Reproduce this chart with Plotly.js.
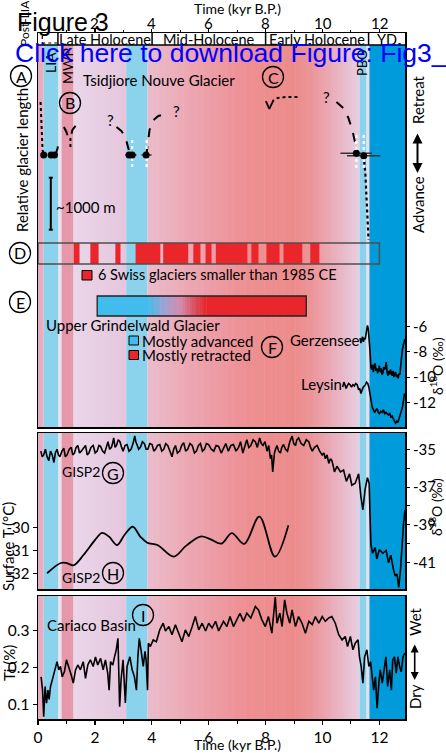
<!DOCTYPE html>
<html><head><meta charset="utf-8">
<script src="https://cdn.plot.ly/plotly-3.0.1.min.js"></script>
<style>html,body{margin:0;padding:0;background:#fff}#chart{width:446px;height:753px}</style>
</head><body><div id="chart"></div>
<script>
// ---------------- DATA ----------------
const xTicks = [0,2,4,6,8,10,12];
const xMinorTicks = [1,3,5,7,9,11];
const topTicks = [2,4,6,8,10,12];

// climate periods (kyr BP)
const periodNames = ['Late Holocene','Mid-Holocene','Early Holocene','YD'];
const periodStart = [0.70, 4.01, 8.0, 11.62];
const periodEnd   = [4.01, 8.0, 11.62, 12.9];

// background bands
const bandStart = [0, 0.2, 0.72, 0.83, 1.25, 3.1, 3.85, 11.3, 11.55, 11.65];
const bandEnd   = [0.2, 0.72, 0.83, 1.25, 3.1, 3.85, 11.3, 11.55, 11.65, 12.9];

// A: Tsidjiore Nouve glacier sketch (relative length, m; 0 = dated position)
const liaDropX = [0.09,0.12,0.16,0.20], liaDropY = [1019,481,96,0];
const liaRiseX = [0.61,0.69,0.72], liaRiseY = [0,135,288];
const mwpLeftX = [0.91,1.0,1.07,1.12], mwpLeftY = [538,442,327,230];
const mwpRightX = [1.32,1.21,1.14], mwpRightY = [558,481,327];
const mwpStemX = [1.14,1.14], mwpStemY = [327,135];
const mh1X = [2.76,2.93,3.07,3.14,3.21], mh1Y = [538,462,346,192,58];
const mh2X = [3.81,3.85,3.92,4.06,4.23,4.48], mh2Y = [0,192,481,673,750,788];
const eh1X = [9.12,8.70,8.42,8.24], eh1Y = [1115,1115,1096,1038];
const eh1HeadX = [8.01,8.13,8.26], eh1HeadY = [1038,885,1038];
const eh2X = [10.49,10.73,10.91,11.05,11.14,11.19], eh2Y = [1019,904,712,481,250,33];
const ydX = [11.45,11.51,11.55,11.58,11.62], ydY = [-13,-385,-865,-1346,-1635];
const dotX = [0.20,0.46,0.58,3.20,3.31,3.80,11.19,11.45];
const dotY = [0,0,0,0,0,0,33,-13];
const dotErrMinus = [0,0,0,0.13,0.13,0.16,0.56,0.59];
const dotErrPlus  = [0,0,0,0.15,0.15,0.19,0.55,0.58];
const whiteLineX = [3.31,3.82,11.19,11.45];
const questionX = [2.55,4.86,10.14], questionY = [673,846,1115];
const scaleBarM = 1000;

// D: 6 Swiss glaciers smaller than 1985 CE
const swissStart = [1.25,1.84,2.72,3.43,4.40,5.46,5.89,6.25,7.50,8.03,8.63,9.57];
const swissEnd   = [1.46,2.13,2.90,4.30,5.28,5.71,6.10,7.36,7.75,8.49,9.29,9.89];
const swissRecordEnd = 12.0;

// E: Upper Grindelwald glacier
const grindAdvStart = 2.08, grindAdvEnd = 3.87;
const grindRetStart = 5.92, grindRetEnd = 9.43;

// F: Gerzensee and Leysin d18O (permil)
const gerzAge = [11.32,11.35,11.38,11.41,11.44,11.47,11.50,11.54,11.58,11.61,11.64,11.67,11.70,11.73,11.76,11.79,11.82,11.85,11.88,11.91,11.94,11.97,12.00,12.03,12.06,12.09,12.12,12.15,12.18,12.21,12.24,12.27,12.30,12.33,12.36,12.39,12.42,12.45,12.48,12.51,12.54,12.57,12.60,12.63,12.66,12.69,12.72,12.75,12.78,12.81,12.84,12.87,12.90];
const gerzD18O = [-6.9,-7.3,-7.0,-6.8,-7.2,-6.9,-7.0,-6.4,-5.9,-6.2,-6.9,-7.9,-9.2,-9.4,-9.0,-9.6,-9.1,-8.9,-9.5,-9.3,-9.7,-9.2,-9.1,-9.6,-9.3,-9.8,-9.7,-9.2,-9.4,-9.3,-8.8,-9.6,-9.9,-9.5,-9.8,-9.4,-9.6,-9.9,-9.5,-10.0,-9.7,-9.6,-10.0,-9.8,-10.1,-9.7,-9.8,-9.3,-8.4,-7.8,-7.3,-7.2,-7.0];
const leysinAge = [10.71,10.75,10.79,10.83,10.87,10.92,10.97,11.02,11.07,11.12,11.17,11.22,11.27,11.31,11.35,11.39,11.43,11.47,11.51,11.55,11.59,11.63,11.67,11.71,11.75,11.79,11.84,11.88,11.92,11.96,12.00,12.05,12.10,12.14,12.19,12.23,12.28,12.32,12.37,12.41,12.45,12.49,12.53,12.57,12.61,12.65,12.69,12.73,12.77,12.81,12.85,12.88];
const leysinD18O = [-10.8,-10.4,-10.6,-10.9,-10.7,-10.5,-10.6,-10.8,-10.6,-10.7,-10.5,-10.6,-11.0,-10.9,-11.3,-11.0,-10.8,-10.7,-10.6,-10.4,-10.5,-10.8,-11.4,-12.1,-12.4,-12.6,-12.8,-12.6,-12.5,-12.8,-12.9,-12.7,-12.8,-12.6,-12.9,-12.8,-12.9,-13.0,-12.9,-13.2,-13.1,-13.4,-13.5,-13.65,-13.5,-13.6,-13.3,-13.1,-12.7,-12.4,-11.8,-11.3];

// G: GISP2 d18O (permil)
const gispAge = [0.10,0.15,0.20,0.26,0.32,0.38,0.44,0.50,0.56,0.61,0.67,0.72,0.77,0.84,0.91,0.96,1.02,1.10,1.17,1.22,1.28,1.34,1.40,1.46,1.52,1.60,1.67,1.73,1.79,1.86,1.94,2.01,2.08,2.14,2.20,2.27,2.34,2.40,2.46,2.52,2.58,2.62,2.66,2.71,2.76,2.82,2.88,2.94,2.99,3.06,3.13,3.20,3.27,3.34,3.40,3.44,3.48,3.54,3.60,3.67,3.74,3.80,3.86,3.93,4.01,4.07,4.13,4.20,4.28,4.35,4.42,4.49,4.56,4.63,4.71,4.77,4.83,4.90,4.98,5.05,5.12,5.19,5.26,5.34,5.42,5.50,5.57,5.64,5.71,5.78,5.85,5.92,6.00,6.09,6.18,6.26,6.35,6.44,6.52,6.60,6.69,6.78,6.87,6.96,7.05,7.12,7.20,7.27,7.34,7.41,7.48,7.56,7.64,7.71,7.79,7.85,7.91,7.98,8.05,8.11,8.17,8.21,8.25,8.28,8.31,8.35,8.40,8.46,8.52,8.57,8.63,8.70,8.77,8.85,8.93,8.99,9.05,9.10,9.16,9.25,9.34,9.43,9.52,9.58,9.64,9.72,9.81,9.90,9.99,10.05,10.10,10.16,10.22,10.28,10.33,10.38,10.42,10.51,10.63,10.74,10.84,10.95,11.03,11.15,11.27,11.35,11.42,11.50,11.58,11.64,11.70,11.76,11.85,11.91,12.00,12.12,12.24,12.32,12.40,12.50,12.56,12.62,12.68,12.74,12.79,12.85,12.90];
const gispD18O = [-35.1,-35.4,-35.3,-35.0,-35.4,-35.6,-35.1,-35.3,-35.7,-35.2,-35.0,-35.3,-35.4,-35.1,-34.95,-35.4,-35.3,-35.0,-34.9,-35.3,-35.2,-34.9,-34.8,-35.2,-35.1,-34.9,-34.8,-35.3,-35.2,-34.9,-34.8,-35.2,-35.1,-34.8,-34.85,-35.1,-35.2,-34.9,-34.6,-35.0,-34.9,-34.7,-34.4,-34.9,-34.8,-34.5,-34.6,-34.9,-35.1,-34.8,-34.75,-35.1,-35.0,-34.7,-34.3,-34.6,-34.75,-35.0,-34.9,-34.6,-34.7,-35.0,-35.0,-34.7,-34.75,-35.1,-35.0,-34.8,-34.75,-35.1,-35.0,-34.7,-34.8,-35.1,-35.4,-35.0,-34.8,-35.2,-35.1,-34.8,-34.65,-35.1,-35.0,-34.7,-34.8,-35.2,-35.1,-34.8,-34.7,-35.1,-35.0,-34.7,-34.75,-35.0,-35.1,-34.8,-34.85,-35.2,-34.9,-34.7,-35.1,-34.8,-34.75,-35.1,-34.9,-34.6,-35.2,-34.9,-34.5,-34.9,-34.8,-34.5,-34.6,-34.9,-34.4,-34.7,-34.8,-34.6,-35.1,-34.8,-35.5,-35.3,-36.2,-35.7,-35.2,-35.0,-34.8,-35.1,-35.2,-34.9,-34.75,-35.0,-35.1,-34.6,-34.3,-34.7,-34.8,-34.5,-34.4,-34.7,-34.8,-34.5,-34.6,-34.9,-35.1,-34.9,-34.8,-35.1,-35.3,-35.2,-35.5,-35.3,-35.75,-35.5,-35.6,-35.9,-36.2,-35.9,-36.2,-36.1,-36.7,-36.3,-36.9,-36.8,-36.3,-37.5,-38.2,-37.1,-36.5,-36.8,-40.0,-40.5,-40.2,-40.8,-40.3,-40.5,-40.35,-41.0,-40.6,-41.4,-41.7,-41.6,-42.3,-41.4,-40.2,-38.9,-38.2];

// H: GISP2 surface temperature (deg C)
const gispTAge = [0.32,0.8,1.0,1.25,1.6,2.0,2.25,2.5,2.78,3.05,3.33,3.6,3.84,4.2,4.77,5.2,5.71,6.05,6.45,6.81,7.25,7.78,8.33,8.8];
const gispT = [-32.0,-31.55,-31.55,-31.65,-31.2,-30.55,-30.23,-30.4,-30.76,-30.3,-29.96,-30.4,-30.66,-30.76,-31.27,-30.8,-30.39,-30.5,-30.7,-30.24,-30.71,-29.52,-31.27,-29.9];

// I: Cariaco Basin Ti (%)
const tiAge = [0.11,0.16,0.20,0.25,0.30,0.35,0.39,0.44,0.50,0.56,0.62,0.67,0.73,0.79,0.85,0.93,1.00,1.08,1.17,1.24,1.32,1.40,1.49,1.59,1.67,1.75,1.84,1.94,2.02,2.10,2.20,2.29,2.37,2.45,2.50,2.55,2.63,2.69,2.75,2.81,2.84,2.87,2.92,2.99,3.07,3.13,3.23,3.31,3.39,3.46,3.51,3.56,3.62,3.70,3.76,3.80,3.85,3.88,3.95,4.05,4.16,4.28,4.40,4.48,4.60,4.71,4.83,4.95,5.06,5.18,5.30,5.42,5.53,5.65,5.77,5.89,6.00,6.12,6.24,6.35,6.47,6.52,6.64,6.75,6.87,6.99,7.10,7.22,7.34,7.48,7.64,7.75,7.87,7.99,8.10,8.22,8.28,8.34,8.40,8.50,8.58,8.67,8.75,8.85,8.93,9.05,9.16,9.28,9.40,9.52,9.64,9.75,9.87,9.99,10.10,10.22,10.33,10.45,10.57,10.69,10.80,10.88,10.98,11.07,11.15,11.25,11.30,11.36,11.42,11.48,11.56,11.63,11.69,11.75,11.80,11.86,11.92,11.98,12.03,12.10,12.17,12.23,12.29,12.36,12.42,12.47,12.53,12.59,12.65,12.71,12.77,12.83,12.89];
const tiVal = [0.176,0.14,0.068,0.15,0.105,0.14,0.115,0.15,0.167,0.186,0.20,0.217,0.195,0.204,0.176,0.19,0.222,0.204,0.18,0.159,0.195,0.208,0.195,0.217,0.172,0.208,0.222,0.204,0.23,0.208,0.226,0.195,0.222,0.186,0.14,0.217,0.208,0.23,0.249,0.28,0.186,0.095,0.168,0.222,0.105,0.204,0.23,0.195,0.176,0.14,0.23,0.28,0.249,0.204,0.245,0.222,0.14,0.267,0.258,0.276,0.271,0.303,0.321,0.30,0.312,0.29,0.317,0.294,0.271,0.303,0.285,0.312,0.339,0.303,0.321,0.30,0.321,0.308,0.326,0.30,0.317,0.326,0.312,0.339,0.312,0.33,0.348,0.326,0.348,0.335,0.366,0.357,0.33,0.312,0.339,0.294,0.339,0.392,0.321,0.348,0.312,0.384,0.348,0.321,0.357,0.312,0.339,0.321,0.294,0.326,0.317,0.339,0.321,0.339,0.326,0.335,0.339,0.321,0.29,0.276,0.285,0.258,0.285,0.249,0.267,0.276,0.23,0.204,0.159,0.23,0.249,0.204,0.217,0.168,0.14,0.176,0.091,0.159,0.195,0.159,0.204,0.23,0.15,0.195,0.14,0.222,0.23,0.186,0.23,0.204,0.19,0.23,0.24];

// ---------------- STYLE / LAYOUT ----------------
const W = 446, H = 753;
const PX = x => x / W, PY = y => 1 - y / H;
const XL = 38, XR = 405;
const FONT = 'Lato, "Noto Sans", sans-serif';
const LIGHTBLUE = [139,211,237], DARKBLUE = [0,155,219];

const bandStyle = [
  [[0,[232,172,192]],[1,[232,172,192]]],
  [[0,LIGHTBLUE],[1,LIGHTBLUE]],
  [[0,[238,222,236]],[1,[238,222,236]]],
  [[0,[229,152,170]],[1,[229,152,170]]],
  [[0,[234,214,234]],[1,[229,198,220]]],
  [[0,LIGHTBLUE],[1,LIGHTBLUE]],
  [[0,[234,188,204]],[0.15,[236,172,184]],[0.35,[237,152,160]],[0.5,[237,142,144]],[0.7,[237,140,140]],[0.78,[235,150,154]],[0.88,[234,174,188]],[1,[230,206,226]]],
  [[0,LIGHTBLUE],[1,LIGHTBLUE]],
  [[0,[236,218,236]],[1,[236,218,236]]],
  [[0,DARKBLUE],[1,DARKBLUE]]
];
function interp(stops, t){
  for (let i=0;i<stops.length-1;i++){
    const [t0,c0]=stops[i],[t1,c1]=stops[i+1];
    if (t>=t0 && t<=t1){
      const f=(t-t0)/((t1-t0)||1);
      return 'rgb('+c0.map((v,k)=>Math.round(v+(c1[k]-v)*f)).join(',')+')';
    }
  }
  const c=stops[stops.length-1][1]; return 'rgb('+c.join(',')+')';
}
const shapes = [];
function rect(x0,x1,y0,y1,fill,opts){
  shapes.push(Object.assign({type:'rect',xref:'x',yref:'paper',x0:x0,x1:x1,y0:y0,y1:y1,fillcolor:fill,line:{width:0},layer:'below'},opts||{}));
}
// bands across all three panels
for (let i=0;i<bandStart.length;i++){
  const st = bandStyle[i];
  const n = st.length>2 || st[0][1]!==st[1][1] ? Math.max(4,Math.round((bandEnd[i]-bandStart[i])*12)) : 1;
  const step=(bandEnd[i]-bandStart[i])/n;
  for (let k=0;k<n;k++){
    const a=bandStart[i]+k*step, b=a+step+(k<n-1?0.02:0);
    rect(a,b,PY(719),PY(45),interp(st,(k+0.5)/n));
  }
}
// white gaps between panels
shapes.push({type:'rect',xref:'paper',yref:'paper',x0:PX(XL-3),x1:PX(XR+3),y0:PY(433),y1:PY(427),fillcolor:'#fff',line:{width:0},layer:'below'});
shapes.push({type:'rect',xref:'paper',yref:'paper',x0:PX(XL-3),x1:PX(XR+3),y0:PY(596),y1:PY(589),fillcolor:'#fff',line:{width:0},layer:'below'});
// period label row
shapes.push({type:'line',xref:'paper',yref:'paper',x0:PX(XL),x1:PX(XR),y0:PY(45),y1:PY(45),line:{color:'#000',width:1.5}});
periodStart.forEach(s=>shapes.push({type:'line',xref:'x',yref:'paper',x0:s,x1:s,y0:PY(45),y1:PY(33),line:{color:'#000',width:1.5}}));
shapes.push({type:'line',xref:'x',yref:'paper',x0:0.15,x1:0.15,y0:PY(45),y1:PY(33),line:{color:'#000',width:1.2,dash:'dot'}});
shapes.push({type:'line',xref:'x',yref:'paper',x0:0.15,x1:0.70,y0:PY(43),y1:PY(43),line:{color:'#000',width:1.2,dash:'dot'}});
// D row
for (let i=0;i<swissStart.length;i++) rect(swissStart[i],swissEnd[i],PY(264),PY(243),'rgb(234,38,43)',{layer:'above'});
shapes.push({type:'rect',xref:'x',yref:'paper',x0:0,x1:swissRecordEnd,y0:PY(264),y1:PY(243),line:{color:'rgb(80,80,80)',width:1.5},fillcolor:'rgba(0,0,0,0)'});
shapes.push({type:'rect',xref:'paper',yref:'paper',x0:PX(82),x1:PX(92),y0:PY(280),y1:PY(270.5),fillcolor:'rgb(234,38,43)',line:{color:'#000',width:1}});
// E row
rect(grindAdvStart,grindAdvEnd,PY(316),PY(296),'rgb(64,189,236)',{layer:'above'});
const eStops=[[0,[64,189,236]],[0.25,[150,165,215]],[0.55,[212,140,172]],[0.8,[216,78,92]],[1,[233,38,43]]];
const eN=24, eStep=(grindRetStart-grindAdvEnd)/eN;
for (let k=0;k<eN;k++){const a=grindAdvEnd+k*eStep; rect(a,a+eStep+0.01,PY(316),PY(296),interp(eStops,(k+0.5)/eN),{layer:'above'});}
rect(grindRetStart,grindRetEnd,PY(316),PY(296),'rgb(233,38,43)',{layer:'above'});
shapes.push({type:'rect',xref:'x',yref:'paper',x0:grindAdvStart,x1:grindRetEnd,y0:PY(316),y1:PY(296),line:{color:'#222',width:1.3},fillcolor:'rgba(0,0,0,0)'});
shapes.push({type:'rect',xref:'paper',yref:'paper',x0:PX(129),x1:PX(138.5),y0:PY(345),y1:PY(336),fillcolor:'rgb(64,189,236)',line:{color:'#000',width:1}});
shapes.push({type:'rect',xref:'paper',yref:'paper',x0:PX(129),x1:PX(138.5),y0:PY(359.5),y1:PY(350.5),fillcolor:'rgb(234,38,43)',line:{color:'#000',width:1}});
// circled letters
const circ = [['A',21,76],['B',70,103],['C',273,77],['D',20,253],['E',20,302],['F',272,347],['G',113,473],['H',113,573],['I',143,615]];
const R = 10.5;
circ.forEach(c=>shapes.push({type:'circle',xref:'paper',yref:'paper',x0:PX(c[1]-R),x1:PX(c[1]+R),y0:PY(c[2]+R),y1:PY(c[2]-R),line:{color:'#000',width:1.3},fillcolor:'rgba(0,0,0,0)'}));

// ---------------- TRACES ----------------
const blk = {color:'#000',width:1.6};
const g = (x,y,dash,extra)=>Object.assign({type:'scatter',mode:'lines',x:x,y:y,xaxis:'x3',yaxis:'y4',line:{color:'#000',width:2,dash:dash},hoverinfo:'skip',showlegend:false},extra||{});
const traces = [
  {type:'scatter',mode:'lines',x:tiAge,y:tiVal,xaxis:'x',yaxis:'y',line:blk,showlegend:false},
  {type:'scatter',mode:'lines',x:gispAge,y:gispD18O,xaxis:'x2',yaxis:'y3',line:blk,showlegend:false},
  {type:'scatter',mode:'lines',x:gispTAge,y:gispT,xaxis:'x2',yaxis:'y2',line:{color:'#000',width:1.8,shape:'spline',smoothing:1},showlegend:false},
  {type:'scatter',mode:'lines',x:gerzAge,y:gerzD18O,xaxis:'x3',yaxis:'y5',line:blk,showlegend:false},
  {type:'scatter',mode:'lines',x:leysinAge,y:leysinD18O,xaxis:'x3',yaxis:'y5',line:blk,showlegend:false},
  g(liaDropX,liaDropY,'dot'),
  g(liaRiseX,liaRiseY,'dash'),
  g(mwpLeftX,mwpLeftY,'dash'),
  g(mwpRightX,mwpRightY,'dash'),
  g(mwpStemX,mwpStemY,'dot'),
  g(mh1X,mh1Y,'dash'),
  g(mh2X,mh2Y,'dash'),
  g(eh1X,eh1Y,'dot'),
  g(eh1HeadX,eh1HeadY,'solid',{line:{color:'#000',width:1.8}}),
  g(eh2X,eh2Y,'dash'),
  g(ydX,ydY,'dot',{line:{color:'#000',width:2.2,dash:'dot'}}),
  g([0.38,0.52,null,0.45,0.45,null,0.38,0.52],[-437,-437,null,-437,-437-scaleBarM,null,-437-scaleBarM,-437-scaleBarM],'solid'),
];
whiteLineX.forEach((x,i)=>traces.push(g([x,x], i<2?[288,-250]:[385,-288],'dot',{line:{color:'#fff',width:2.2,dash:'dot'}})));
traces.push({type:'scatter',mode:'markers',x:dotX,y:dotY,xaxis:'x3',yaxis:'y4',marker:{color:'#000',size:7},
  error_x:{type:'data',symmetric:false,array:dotErrPlus,arrayminus:dotErrMinus,width:0,thickness:1.5,color:'rgb(50,50,50)'},showlegend:false});

// ---------------- ANNOTATIONS ----------------
const ann = [];
function T(text,x,y,o){ann.push(Object.assign({text:text,x:PX(x),y:PY(y),xref:'paper',yref:'paper',showarrow:false,xanchor:'center',yanchor:'middle',font:{family:FONT,size:15,color:'#000'}},o||{}));}
const rot = {textangle:-90};
// top axis tick labels
topTicks.forEach(t=>ann.push({text:String(t),x:t,y:PY(23),xref:'x3',yref:'paper',showarrow:false,xanchor:'center',yanchor:'middle',font:{family:FONT,size:15,color:'#000'}}));
T('Time (kyr B.P.)',237,8.5,{font:{family:FONT,size:14}});
T('Time (kyr B.P.)',237,744,{font:{family:FONT,size:14}});
periodNames.forEach((nm,i)=>ann.push({text:nm,x:(periodStart[i]+periodEnd[i])/2,y:PY(39.5),xref:'x',yref:'paper',showarrow:false,xanchor:'center',yanchor:'middle',font:{family:FONT,size:14.5,color:'#000'}}));
T('Post-LIA',25,23,Object.assign({font:{family:FONT,size:12}},rot));
T('LIA',50,63,Object.assign({font:{family:FONT,size:14}},rot));
T('MWP',67,66,Object.assign({font:{family:FONT,size:14}},rot));
T('PBO',362,63,Object.assign({font:{family:FONT,size:13}},rot));
T('Tsidjiore Nouve Glacier',81,79.5,{xanchor:'left'});
T('Relative glacier length',22,160,rot);
T('Retreat',418,100,rot);
T('Advance',418,205,rot);
T('~1000 m',54,207,{xanchor:'left'});
questionX.forEach((x,i)=>ann.push({text:'?',x:x,y:questionY[i],xref:'x3',yref:'y4',showarrow:false,font:{family:FONT,size:15,color:'#000'}}));
T('6 Swiss glaciers smaller than 1985 CE',96,274.5,{xanchor:'left',font:{family:FONT,size:14.5}});
T('Upper Grindelwald Glacier',44,325,{xanchor:'left'});
T('Mostly advanced',140,340.5,{xanchor:'left'});
T('Mostly retracted',140,355,{xanchor:'left'});
T('Gerzensee',288,340,{xanchor:'left'});
T('Leysin',299,384,{xanchor:'left'});
T('δ<sup>18</sup>O (‰)',436,366,Object.assign({font:{family:FONT,size:14}},rot));
T('δ<sup>18</sup>O (‰)',436,507,Object.assign({font:{family:FONT,size:14}},rot));
T('GISP2',60,471,{xanchor:'left',font:{family:FONT,size:14}});
T('GISP2',60,577,{xanchor:'left',font:{family:FONT,size:14}});
T('Surface T (°C)',8,547,rot);
T('Cariaco Basin',45,625,{xanchor:'left'});
T('Ti (%)',9,663,rot);
T('Wet',415,622,rot);
T('Dry',415,697,rot);
circ.forEach(c=>T(c[0],c[1],c[2],{font:{family:FONT,size:16}}));
// double arrows
ann.push({x:PX(417.5),y:PY(173),xref:'paper',yref:'paper',ax:0,ay:-41,text:'',showarrow:true,arrowhead:2,arrowside:'end+start',arrowsize:1,arrowwidth:2,arrowcolor:'#000'});
ann.push({x:PX(414.7),y:PY(680),xref:'paper',yref:'paper',ax:0,ay:-37,text:'',showarrow:true,arrowhead:2,arrowside:'end+start',arrowsize:1,arrowwidth:1.6,arrowcolor:'#000'});
// PDF overlay texts
T('Figure 3',15,22,{xanchor:'left',font:{family:'"Liberation Sans", Arial, sans-serif',size:25,color:'#000'}});
T('Click here to download Figure: Fig3_',13,53,{xanchor:'left',font:{family:'"Liberation Sans", Arial, sans-serif',size:26.5,color:'rgb(0,0,255)'}});

// ---------------- AXES ----------------
const xCommon = {domain:[PX(XL),PX(XR)],range:[0,12.9],showgrid:false,zeroline:false,showline:true,mirror:true,linecolor:'#000',linewidth:1.5};
const layout = {
  width:W,height:H,margin:{l:0,r:0,t:0,b:0},paper_bgcolor:'#fff',plot_bgcolor:'rgba(0,0,0,0)',
  font:{family:FONT,color:'#000',size:15},showlegend:false,
  xaxis:Object.assign({},xCommon,{anchor:'y',tickvals:xTicks,ticks:'outside',ticklen:4,tickwidth:1.3,tickcolor:'#000',
    minor:{tickvals:xMinorTicks,ticks:'outside',ticklen:3,tickwidth:1,tickcolor:'#000'},tickfont:{size:15.5}}),
  xaxis2:Object.assign({},xCommon,{anchor:'y2',showticklabels:false,ticks:''}),
  xaxis3:Object.assign({},xCommon,{anchor:'y4',side:'top',tickvals:topTicks,showticklabels:false,ticks:'outside',ticklen:3,tickwidth:1.3,tickcolor:'#000',
    minor:{tickvals:xMinorTicks,ticks:'outside',ticklen:2,tickwidth:1,tickcolor:'#000'}}),
  yaxis:{domain:[PY(719),PY(596)],range:[0.0619,0.3946],anchor:'x',tickvals:[0.1,0.2,0.3],ticktext:['0.1','0.2','0.3'],ticks:'outside',ticklen:4,tickcolor:'#000',
    showline:true,mirror:true,linecolor:'#000',linewidth:1.5,showgrid:false,zeroline:false,tickfont:{size:15.5}},
  yaxis2:{domain:[PY(589),PY(433)],range:[-32.69,-25.85],anchor:'x2',tickvals:[-30,-31,-32],ticktext:['-30','-31','-32'],ticks:'outside',ticklen:4,tickcolor:'#000',
    showline:true,mirror:true,linecolor:'#000',linewidth:1.5,showgrid:false,zeroline:false,tickfont:{size:15}},
  yaxis3:{overlaying:'y2',side:'right',anchor:'x2',range:[-42.39,-34.14],tickvals:[-35,-36,-37,-38,-39,-40,-41],ticktext:['-35','','-37','','-39','','-41'],
    ticks:'outside',ticklen:4,tickcolor:'#000',showline:false,showgrid:false,zeroline:false,tickfont:{size:15}},
  yaxis4:{domain:[PY(427),PY(33)],range:[-5231,2346],anchor:'x3',showticklabels:false,ticks:'',showline:true,mirror:true,linecolor:'#000',linewidth:1.5,showgrid:false,zeroline:false},
  yaxis5:{domain:[PY(427),PY(300)],range:[-13.96,-3.88],anchor:'x3',side:'right',tickvals:[-6,-8,-10,-12],ticktext:['-6','-8','-10','-12'],
    ticks:'outside',ticklen:4,tickcolor:'#000',showline:false,showgrid:false,zeroline:false,tickfont:{size:15}},
  shapes:shapes,annotations:ann
};
Plotly.newPlot('chart',traces,layout,{displayModeBar:false,staticPlot:true});
</script></body></html>
